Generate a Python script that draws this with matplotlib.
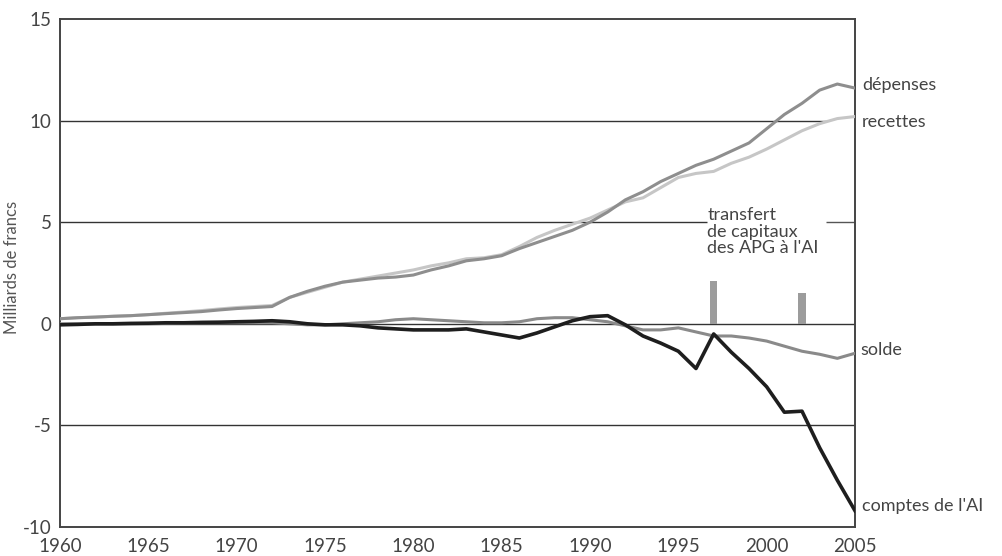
import matplotlib
matplotlib.use("Agg")
import matplotlib.pyplot as plt

# Data (Milliards de francs)
years = list(range(1960, 2006))

depenses = [0.25, 0.30, 0.33, 0.37, 0.40, 0.45, 0.50, 0.55, 0.60, 0.68,
            0.75, 0.80, 0.85, 1.30, 1.60, 1.85, 2.05, 2.15, 2.25, 2.30,
            2.40, 2.65, 2.85, 3.10, 3.20, 3.35, 3.70, 4.00, 4.30, 4.60,
            5.00, 5.50, 6.10, 6.50, 7.00, 7.40, 7.80, 8.10, 8.50, 8.90,
            9.60, 10.30, 10.85, 11.50, 11.80, 11.60]

recettes = [0.25, 0.30, 0.33, 0.37, 0.40, 0.45, 0.52, 0.58, 0.65, 0.73,
            0.80, 0.85, 0.90, 1.30, 1.55, 1.80, 2.05, 2.20, 2.35, 2.50,
            2.65, 2.85, 3.00, 3.20, 3.25, 3.40, 3.80, 4.25, 4.60, 4.90,
            5.20, 5.60, 6.00, 6.20, 6.70, 7.20, 7.40, 7.50, 7.90, 8.20,
            8.60, 9.05, 9.50, 9.85, 10.10, 10.20]

solde = [0.00, 0.00, 0.00, 0.00, 0.00, 0.00, 0.02, 0.03, 0.05, 0.05,
         0.05, 0.05, 0.05, 0.00, -0.05, -0.05, 0.00, 0.05, 0.10, 0.20,
         0.25, 0.20, 0.15, 0.10, 0.05, 0.05, 0.10, 0.25, 0.30, 0.30,
         0.20, 0.10, -0.10, -0.30, -0.30, -0.20, -0.40, -0.60, -0.60, -0.70,
         -0.85, -1.10, -1.35, -1.50, -1.70, -1.45]

comptes = [-0.05, -0.03, 0.00, 0.00, 0.02, 0.03, 0.05, 0.05, 0.07, 0.08,
           0.10, 0.12, 0.15, 0.10, 0.00, -0.05, -0.05, -0.10, -0.20, -0.25,
           -0.30, -0.30, -0.30, -0.25, -0.40, -0.55, -0.70, -0.45, -0.15, 0.15,
           0.35, 0.40, -0.05, -0.60, -0.95, -1.35, -2.20, -0.50, -1.40, -2.20,
           -3.10, -4.35, -4.30, -6.10, -7.70, -9.20]

# capital transfers APG -> AI
transfert_years = [1997, 2002]
transfert_amounts = [2.1, 1.5]

plt.rcParams['font.family'] = ['Lato', 'DejaVu Sans']
plt.rcParams['axes.unicode_minus'] = False

fig = plt.figure(figsize=(10.02, 5.56), dpi=100)
ax = fig.add_axes([60/1002, 29/556, 795/1002, 508/556])

ax.set_xlim(1960, 2005)
ax.set_ylim(-10, 15)

# horizontal rules (the 5 and 10 lines are cut around the annotation)
ax.hlines([0, -5], 1960, 2005, color='#333333', lw=1.0, zorder=1)
ax.hlines(10, 1960, 2003.35, color='#333333', lw=1.0, zorder=1)
ax.hlines(5, 1960, 1996.6, color='#333333', lw=1.0, zorder=1)
ax.hlines(5, 2003.35, 2005, color='#555555', lw=1.0, zorder=1)

ax.bar(transfert_years, transfert_amounts, width=0.4, color='#9c9c9c', zorder=2)

ax.plot(years, recettes, color='#c6c6c6', lw=2.2, zorder=3)
ax.plot(years, depenses, color='#8e8e8e', lw=2.2, zorder=4)
ax.plot(years, solde, color='#8a8a8a', lw=2.2, zorder=5)
ax.plot(years, comptes, color='#1e1e1e', lw=2.6, zorder=6)

txt = dict(fontsize=13, color='#444444', va='center', ha='left', clip_on=False)
ax.text(2005.4, 11.75, 'dépenses', **txt)
ax.text(2005.4, 9.95, 'recettes', **txt)
ax.text(2005.3, -1.3, 'solde', **txt)
ax.text(2005.4, -8.95, "comptes de l'AI", **txt)
ax.text(1996.65, 5.75, "transfert\nde capitaux\ndes APG à l'AI", fontsize=13,
        color='#444444', va='top', ha='left', linespacing=1.05)

ax.set_xticks([1960, 1965, 1970, 1975, 1980, 1985, 1990, 1995, 2000, 2005])
ax.set_yticks([-10, -5, 0, 5, 10, 15])
ax.tick_params(axis='x', length=0, pad=8, labelsize=13.5, labelcolor='#444444')
ax.tick_params(axis='y', length=0, pad=6, labelsize=13.5, labelcolor='#444444')

ax.set_ylabel('Milliards de francs', fontsize=12, color='#555555')
ax.yaxis.set_label_coords(-0.05, 0.51)

for s in ax.spines.values():
    s.set_color('#444444')
    s.set_linewidth(1.4)

plt.savefig("out.png", dpi=100)
